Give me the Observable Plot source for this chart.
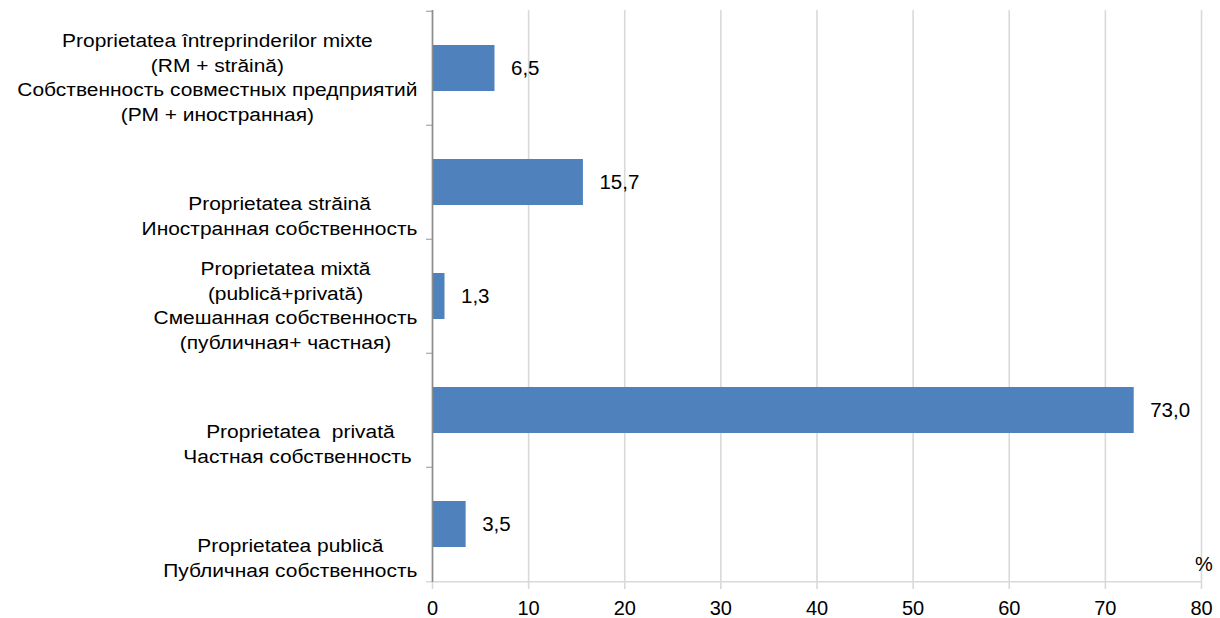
<!DOCTYPE html>
<html><head><meta charset="utf-8">
<script src="https://cdn.jsdelivr.net/npm/d3@7"></script>
<script src="https://cdn.jsdelivr.net/npm/@observablehq/plot@0.6"></script>
<style>
html,body{margin:0;padding:0;background:#fff;}
#chart text{white-space:pre;}
</style></head><body><div id="chart"></div>
<script>
const categories = [
  "Proprietatea întreprinderilor mixte\n(RM + străină)\nСобственность совместных предприятий\n(РМ + иностранная)",
  "Proprietatea străină\nИностранная собственность",
  "Proprietatea mixtă\n(publică+privată)\nСмешанная собственность\n(публичная+ частная)",
  "Proprietatea  privată\nЧастная собственность ",
  "Proprietatea publică\nПубличная собственность"
];
const values = [6.5, 15.7, 1.3, 73.0, 3.5];
const xTicks = [0, 10, 20, 30, 40, 50, 60, 70, 80];
const unitLabel = "%";

const data = categories.map((c, i) => ({category: c, value: values[i]}));
const W = 1220, H = 618, mT = 10, mB = 36, mL = 432, mR = 19;
const halfStep = (H - mT - mB) / categories.length / 2;
const xMax = xTicks[xTicks.length - 1];

const labelSize = 17.6, stretch = 1.19, lineH = 24.5, gap = 15;
const ctx = document.createElement("canvas").getContext("2d");
ctx.font = `${labelSize}px 'Liberation Sans', Arial, sans-serif`;
const blockWidth = c => stretch * Math.max(...c.split("\n").map(l => ctx.measureText(l).width));
const fmt = v => v.toFixed(1).replace(".", ",");

const labelMarks = categories.map(c => Plot.text([c], {
  y: d => d, x: () => 0, text: d => d,
  textAnchor: "middle", lineAnchor: "bottom", lineHeight: lineH / labelSize,
  fontSize: labelSize, fill: "#000",
  dx: -(gap + blockWidth(c) / 2), dy: halfStep - 5
}));

const chart = Plot.plot({
  width: W, height: H,
  marginTop: mT, marginBottom: mB, marginLeft: mL, marginRight: mR,
  style: {fontFamily: "'Liberation Sans', Arial, sans-serif", fontSize: "19px", color: "#000", background: "#fff"},
  x: {domain: [0, xMax]},
  y: {domain: categories, paddingInner: 0.6, paddingOuter: 0.3, axis: null},
  marks: [
    Plot.gridX(xTicks, {stroke: "#d9d9d9", strokeOpacity: 1, strokeWidth: 1.6}),
    Plot.barX(data, {x: "value", y: "category", fill: "#4f81bd"}),
    Plot.ruleY(categories, {y: d => d, x1: () => 0, x2: () => 0, insetLeft: -6, dy: -halfStep, stroke: "#a6a6a6", strokeWidth: 1.2}),
    Plot.ruleY([categories[categories.length - 1]], {y: d => d, x1: () => 0, x2: () => xMax, insetLeft: -6, dy: halfStep, stroke: "#d9d9d9", strokeWidth: 1.6}),
    Plot.ruleX([0], {stroke: "#8c8c8c", strokeWidth: 1.6}),
    Plot.axisX(xTicks, {tickSize: 7, tickPadding: 11, fontSize: 20, stroke: "#d9d9d9", strokeWidth: 1.6, strokeOpacity: 1, fill: "#000", label: null}),
    ...labelMarks,
    Plot.text(data, {x: "value", y: "category", text: d => fmt(d.value), dx: 16, textAnchor: "start", fontSize: 20.5, fill: "#000"}),
    Plot.text([unitLabel], {x: () => xMax, frameAnchor: "bottom", text: d => d, dx: 2.5, dy: -11.5, fontSize: 20, fill: "#000"})
  ]
});
const flat = new Set(categories.map(c => c.replace(/\n/g, "")));
d3.select(chart).selectAll("text").each(function () {
  if (flat.has(this.textContent)) {
    const t = this.getAttribute("transform") || "";
    this.setAttribute("transform", `${t} scale(${stretch},1)`);
  }
});
document.getElementById("chart").appendChild(chart);
</script></body></html>
